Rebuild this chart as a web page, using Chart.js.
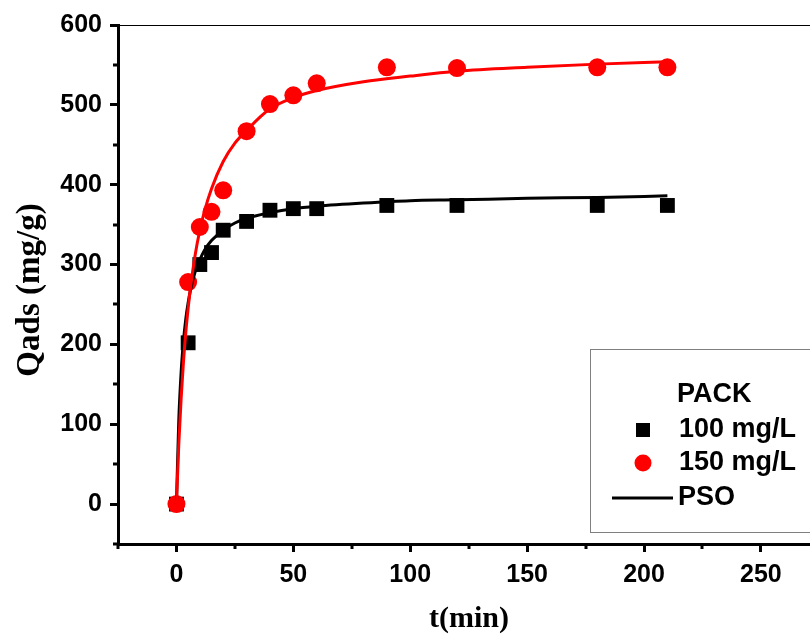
<!DOCTYPE html>
<html>
<head>
<meta charset="utf-8">
<script src="https://cdn.jsdelivr.net/npm/chart.js@4.4.0/dist/chart.umd.min.js"></script>
<style>
html, body { margin: 0; padding: 0; background: #fff; overflow: hidden; }
canvas { display: block; }
</style>
</head>
<body>
<canvas id="chart" width="810" height="639"></canvas>
<script>
// measured points
const times = [0, 5, 10, 15, 20, 30, 40, 50, 60, 90, 120, 180, 210];
const q100 = [0, 202, 300, 315, 343, 354, 368, 370, 370, 374, 374, 374, 374];
const q150 = [0, 278, 347, 366, 393, 467, 501, 512, 527, 547, 546, 547, 547];

// PSO fit curves
const fitTimes = [0, 1, 2, 3, 4, 5, 6, 8, 10, 12, 15, 20, 25, 30, 40, 50, 60, 80, 100, 120, 150, 180, 210];
const fit100 = [0, 105, 165, 204, 232, 252, 268, 291, 306, 318, 330, 343, 352, 358, 365, 370, 373, 377, 380, 381, 383, 384, 386];
const fit150 = [0, 75, 132, 178, 215, 245, 271, 312, 343, 367, 395, 429, 452, 468, 495, 509, 518, 529, 536, 542, 547, 551, 554];

const xTicks = [0, 50, 100, 150, 200, 250];
const yTicks = [0, 100, 200, 300, 400, 500, 600];
const xMinor = [-25, 25, 75, 125, 175, 225];
const yMinor = [-50, 50, 150, 250, 350, 450, 550];

const legendTitle = 'PACK';
const labels = ['100 mg/L', '150 mg/L', 'PSO'];

const pts = (xs, ys) => xs.map((x, i) => ({ x: x, y: ys[i] }));

const extras = {
	id: 'extras',
	afterDraw(chart) {
		const ctx = chart.ctx;
		const area = chart.chartArea;
		const sx = chart.scales.x, sy = chart.scales.y;
		ctx.save();
		ctx.strokeStyle = '#000';
		ctx.fillStyle = '#000';

		// thin top frame
		ctx.lineWidth = 1;
		ctx.beginPath();
		ctx.moveTo(area.left, area.top + 0.5);
		ctx.lineTo(chart.width, area.top + 0.5);
		ctx.stroke();

		// minor ticks
		ctx.lineWidth = 3;
		xMinor.forEach(v => {
			const px = Math.round(sx.getPixelForValue(v));
			ctx.beginPath();
			ctx.moveTo(px, area.bottom);
			ctx.lineTo(px, area.bottom + 5);
			ctx.stroke();
		});
		yMinor.forEach(v => {
			const py = Math.round(sy.getPixelForValue(v));
			ctx.beginPath();
			ctx.moveTo(area.left, py);
			ctx.lineTo(area.left - 5, py);
			ctx.stroke();
		});

		// axis titles
		ctx.font = 'bold 33px "Liberation Serif", "Times New Roman", serif';
		ctx.textAlign = 'center';
		ctx.textBaseline = 'alphabetic';
		ctx.save();
		ctx.translate(39, 290);
		ctx.rotate(-Math.PI / 2);
		ctx.fillText('Qads (mg/g)', 0, 0);
		ctx.restore();
		ctx.font = 'bold 30px "Liberation Serif", "Times New Roman", serif';
		ctx.fillText('t(min)', 469, 627);

		// legend box
		ctx.lineWidth = 1;
		ctx.strokeStyle = '#808080';
		ctx.strokeRect(590.5, 349.5, 240, 183);

		ctx.font = 'bold 27px "Liberation Sans", Arial, sans-serif';
		ctx.textAlign = 'left';
		ctx.textBaseline = 'middle';
		ctx.fillStyle = '#000';
		ctx.fillText(legendTitle, 677, 395);

		// 100 mg/L square
		ctx.fillRect(636, 423, 14, 14);
		ctx.fillText(labels[0], 679, 430);
		// 150 mg/L circle
		ctx.fillStyle = '#ff0000';
		ctx.beginPath();
		ctx.arc(643, 463, 8.5, 0, Math.PI * 2);
		ctx.fill();
		ctx.fillStyle = '#000';
		ctx.fillText(labels[1], 679, 463);
		// PSO line
		ctx.strokeStyle = '#000';
		ctx.lineWidth = 3;
		ctx.beginPath();
		ctx.moveTo(612, 498);
		ctx.lineTo(673, 498);
		ctx.stroke();
		ctx.fillText(labels[2], 678, 498);

		ctx.restore();
	}
};

const axisCommon = {
	grid: { display: true, drawOnChartArea: false, drawTicks: true, tickLength: 8, tickWidth: 3, tickColor: '#000' },
	border: { display: true, width: 3, color: '#000' },
	ticks: { color: '#000', font: { family: '"Liberation Sans", Arial, sans-serif', size: 25, weight: 'bold' } }
};

new Chart(document.getElementById('chart'), {
	type: 'scatter',
	data: {
		datasets: [
			{
				label: 'PSO 150',
				type: 'line',
				data: pts(fitTimes, fit150),
				borderColor: '#ff0000',
				borderWidth: 3,
				pointRadius: 0,
				cubicInterpolationMode: 'monotone',
				fill: false
			},
			{
				label: 'PSO 100',
				type: 'line',
				data: pts(fitTimes, fit100),
				borderColor: '#000',
				borderWidth: 3,
				pointRadius: 0,
				cubicInterpolationMode: 'monotone',
				fill: false
			},
			{
				label: labels[1],
				data: pts(times, q150),
				pointStyle: 'circle',
				pointRadius: 9,
				pointBackgroundColor: '#ff0000',
				pointBorderWidth: 0,
				showLine: false
			},
			{
				label: labels[0],
				data: pts(times, q100),
				pointStyle: 'rect',
				pointRadius: 10.5,
				pointBackgroundColor: '#000',
				pointBorderWidth: 0,
				showLine: false
			}
		]
	},
	options: {
		responsive: false,
		animation: false,
		layout: { autoPadding: false, padding: { top: 25, right: 0, left: 0, bottom: 0 } },
		plugins: { legend: { display: false }, tooltip: { enabled: false } },
		scales: {
			x: Object.assign({}, axisCommon, {
				type: 'linear',
				min: -25,
				max: 271,
				afterBuildTicks: s => { s.ticks = xTicks.map(v => ({ value: v })); },
				afterFit: s => { s.height = 95; s.paddingLeft = 0; s.paddingRight = 0; },
				ticks: Object.assign({}, axisCommon.ticks, { padding: 8, maxRotation: 0 })
			}),
			y: Object.assign({}, axisCommon, {
				type: 'linear',
				min: -50,
				max: 600,
				afterBuildTicks: s => { s.ticks = yTicks.map(v => ({ value: v })); },
				afterFit: s => { s.width = 118; s.paddingTop = 0; s.paddingBottom = 0; },
				ticks: Object.assign({}, axisCommon.ticks, { padding: 8 })
			})
		}
	},
	plugins: [extras]
});
</script>
</body>
</html>
